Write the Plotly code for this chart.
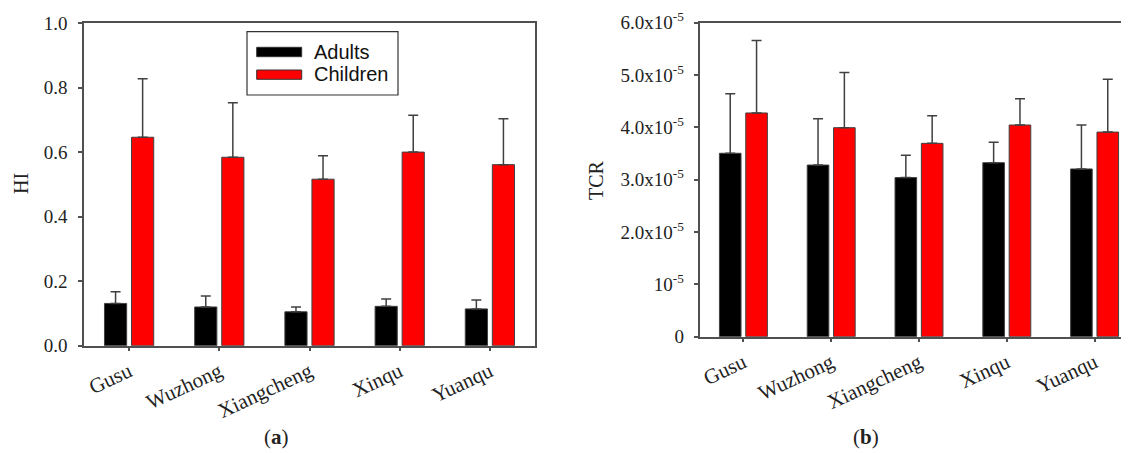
import plotly.graph_objects as go

districts = ["Gusu", "Wuzhong", "Xiangcheng", "Xinqu", "Yuanqu"]
series_names = ["Adults", "Children"]

# Panel (a): HI
hi_adults = [0.131, 0.120, 0.105, 0.122, 0.114]
hi_adults_err = [0.036, 0.034, 0.015, 0.023, 0.028]
hi_children = [0.646, 0.584, 0.516, 0.600, 0.561]
hi_children_err = [0.181, 0.169, 0.073, 0.114, 0.142]

# Panel (b): TCR
tcr_adults = [3.505e-5, 3.28e-5, 3.04e-5, 3.325e-5, 3.205e-5]
tcr_adults_err = [1.135e-5, 0.886e-5, 0.426e-5, 0.39e-5, 0.84e-5]
tcr_children = [4.275e-5, 3.994e-5, 3.695e-5, 4.045e-5, 3.91e-5]
tcr_children_err = [1.385e-5, 1.056e-5, 0.528e-5, 0.503e-5, 1.01e-5]

hi_ticks = [0, 0.2, 0.4, 0.6, 0.8, 1.0]
hi_ticktext = ["0.0", "0.2", "0.4", "0.6", "0.8", "1.0"]
tcr_ticks = [0, 1e-5, 2e-5, 3e-5, 4e-5, 5e-5, 6e-5]
tcr_ticktext = ["0", "10<sup>-5</sup>", "2.0x10<sup>-5</sup>", "3.0x10<sup>-5</sup>",
                "4.0x10<sup>-5</sup>", "5.0x10<sup>-5</sup>", "6.0x10<sup>-5</sup>"]

colors = ["#000000", "#ff0000"]
W, H = 1129, 453
OFF = 8  # page body margin offset
SERIF = "Liberation Serif"
SANS = "Liberation Sans"
AXC = "#505050"
TXT = "#222222"

def px(x):
    return (x - OFF) / W

def py(y):
    return 1 - (y - OFF) / H

fig = go.Figure()

def add_bar(x, y, err, name, color, xa, ya):
    fig.add_trace(go.Bar(
        x=x, y=y, name=name, showlegend=False,
        marker=dict(color=color, line=dict(color="#404040", width=1)),
        error_y=dict(type="data", array=err, arrayminus=[0] * len(err), symmetric=False,
                     color="#404040", thickness=1.5, width=5),
        xaxis=xa, yaxis=ya,
    ))

add_bar(districts, hi_adults, hi_adults_err, series_names[0], colors[0], "x", "y")
add_bar(districts, hi_children, hi_children_err, series_names[1], colors[1], "x", "y")
add_bar(districts, tcr_adults, tcr_adults_err, series_names[0], colors[0], "x2", "y2")
add_bar(districts, tcr_children, tcr_children_err, series_names[1], colors[1], "x2", "y2")

ytickfont = dict(family=SERIF, size=19, color=TXT)
xtickfont = dict(family=SERIF, size=21, color=TXT)

common_x = dict(type="category", showline=True, linecolor=AXC, linewidth=1.5, mirror=True,
                ticks="outside", ticklen=4, tickcolor=AXC, tickwidth=1.5, tickangle=-25,
                tickfont=xtickfont, showgrid=False, zeroline=False, automargin=False)
common_y = dict(showline=True, linecolor=AXC, linewidth=1.5,
                ticks="outside", ticklen=4, tickcolor=AXC, tickwidth=1.5,
                tickfont=ytickfont, showgrid=False, zeroline=False, automargin=False)

# panel (b) plot area runs past the right edge of the picture
b_left = 699.5
b_cat = 87.8
b_right_page = OFF + W
b_range_max = (b_right_page - b_left) / b_cat - 0.5

fig.update_layout(
    template="none",
    width=W, height=H,
    margin=dict(l=0, r=0, t=0, b=0, autoexpand=False),
    paper_bgcolor="white", plot_bgcolor="white",
    barmode="group", bargap=0.4, bargroupgap=0.18,
    showlegend=False,
    xaxis=dict(common_x, domain=[px(84), px(535)], range=[-0.5, 4.5], anchor="y"),
    yaxis=dict(common_y, domain=[py(345.7), py(23)], range=[0, 1.0], tickvals=hi_ticks,
               ticktext=hi_ticktext, mirror=True, anchor="x", ticklabelstandoff=7),
    xaxis2=dict(common_x, domain=[px(b_left), 1.0], range=[-0.5, b_range_max], anchor="y2"),
    yaxis2=dict(common_y, domain=[py(336.7), py(22.7)], range=[0, 6e-5], tickvals=tcr_ticks,
                ticktext=tcr_ticktext, mirror=False, anchor="x2", ticklabelstandoff=6),
)

def note(x, y, text, size, family=SERIF, angle=0, xanchor="center", color=TXT):
    fig.add_annotation(x=px(x), y=py(y), xref="paper", yref="paper", text=text, textangle=angle,
                       xanchor=xanchor, yanchor="middle", showarrow=False,
                       font=dict(family=family, size=size, color=color))

# axis titles
note(21, 184, "HI", 20, angle=-90)
note(596, 180, "TCR", 20, angle=-90)

# panel labels
note(276, 437, "(<b>a</b>)", 21)
note(866, 437, "(<b>b</b>)", 21)

# legend for panel (a)
fig.add_shape(type="rect", xref="paper", yref="paper", x0=px(247), x1=px(398), y0=py(95), y1=py(31.7),
              line=dict(color="#333333", width=1.2), fillcolor="white")
sym_y = [(47.3, 56.7), (70, 79.3)]
txt_y = [52, 74.5]
for i in range(2):
    fig.add_shape(type="rect", xref="paper", yref="paper", x0=px(256.7), x1=px(301.7),
                  y0=py(sym_y[i][1]), y1=py(sym_y[i][0]),
                  line=dict(color="#333333", width=1), fillcolor=colors[i])
    note(312, txt_y[i], series_names[i], 20, family=SANS, xanchor="left", color="#111111")

fig.write_html("out.html")
